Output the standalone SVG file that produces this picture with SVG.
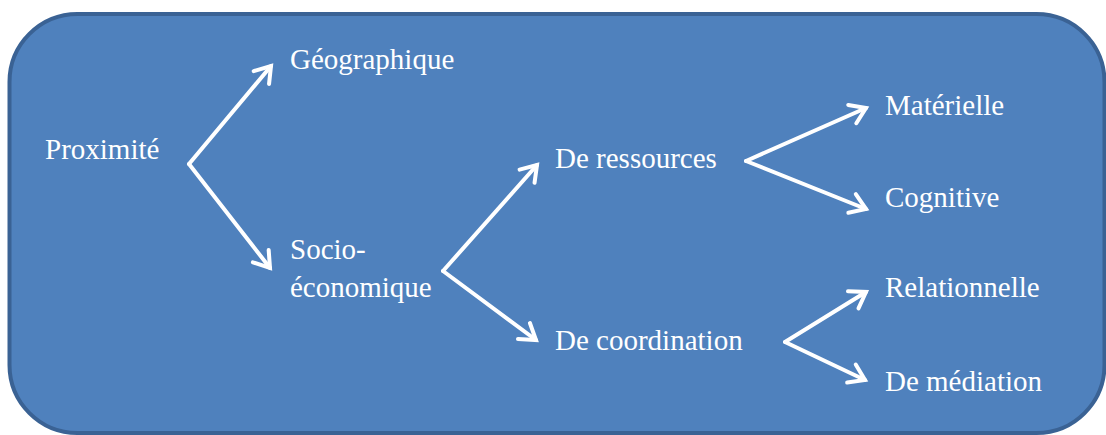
<svg xmlns="http://www.w3.org/2000/svg" width="1106" height="435" viewBox="0 0 1106 435">
<defs>
<style>
.lbl{font-family:'Liberation Serif','Times New Roman',serif;font-size:29px;fill:#ffffff;}
.conn{stroke:#ffffff;stroke-width:4;fill:none;stroke-linecap:round;marker-end:url(#arr);}
</style>
<marker id="arr" markerUnits="userSpaceOnUse" markerWidth="30" markerHeight="30" refX="0" refY="0" viewBox="-20 -15 25 30" orient="auto">
<path d="M-15,-10 L0,0 L-15,10" fill="none" stroke="#ffffff" stroke-width="4" stroke-linecap="round" stroke-linejoin="miter"/>
</marker>
</defs>
<rect x="9.5" y="14" width="1095" height="419" rx="68" ry="68" fill="#4F81BD" stroke="#3A6294" stroke-width="4"/>
<g id="connectors">
<line class="conn" x1="189" y1="164" x2="271" y2="66"/>
<line class="conn" x1="189" y1="164" x2="270" y2="268"/>
<line class="conn" x1="443" y1="271" x2="537" y2="165"/>
<line class="conn" x1="443" y1="271" x2="536" y2="340"/>
<line class="conn" x1="746" y1="161" x2="866" y2="108"/>
<line class="conn" x1="746" y1="161" x2="866" y2="209"/>
<line class="conn" x1="785" y1="342" x2="866" y2="292"/>
<line class="conn" x1="785" y1="342" x2="865" y2="380"/>
</g>
<g id="proximite"><text class="lbl" x="45" y="159">Proximité</text></g>
<g id="geographique"><text class="lbl" x="290" y="69">Géographique</text></g>
<g id="socioeconomique"><text class="lbl" x="290" y="259">Socio-</text><text class="lbl" x="290" y="297">économique</text></g>
<g id="ressources"><text class="lbl" x="555" y="168">De ressources</text></g>
<g id="coordination"><text class="lbl" x="555" y="350">De coordination</text></g>
<g id="materielle"><text class="lbl" x="885" y="115">Matérielle</text></g>
<g id="cognitive"><text class="lbl" x="885" y="207">Cognitive</text></g>
<g id="relationnelle"><text class="lbl" x="885" y="297">Relationnelle</text></g>
<g id="mediation"><text class="lbl" x="885" y="391">De médiation</text></g>
</svg>
